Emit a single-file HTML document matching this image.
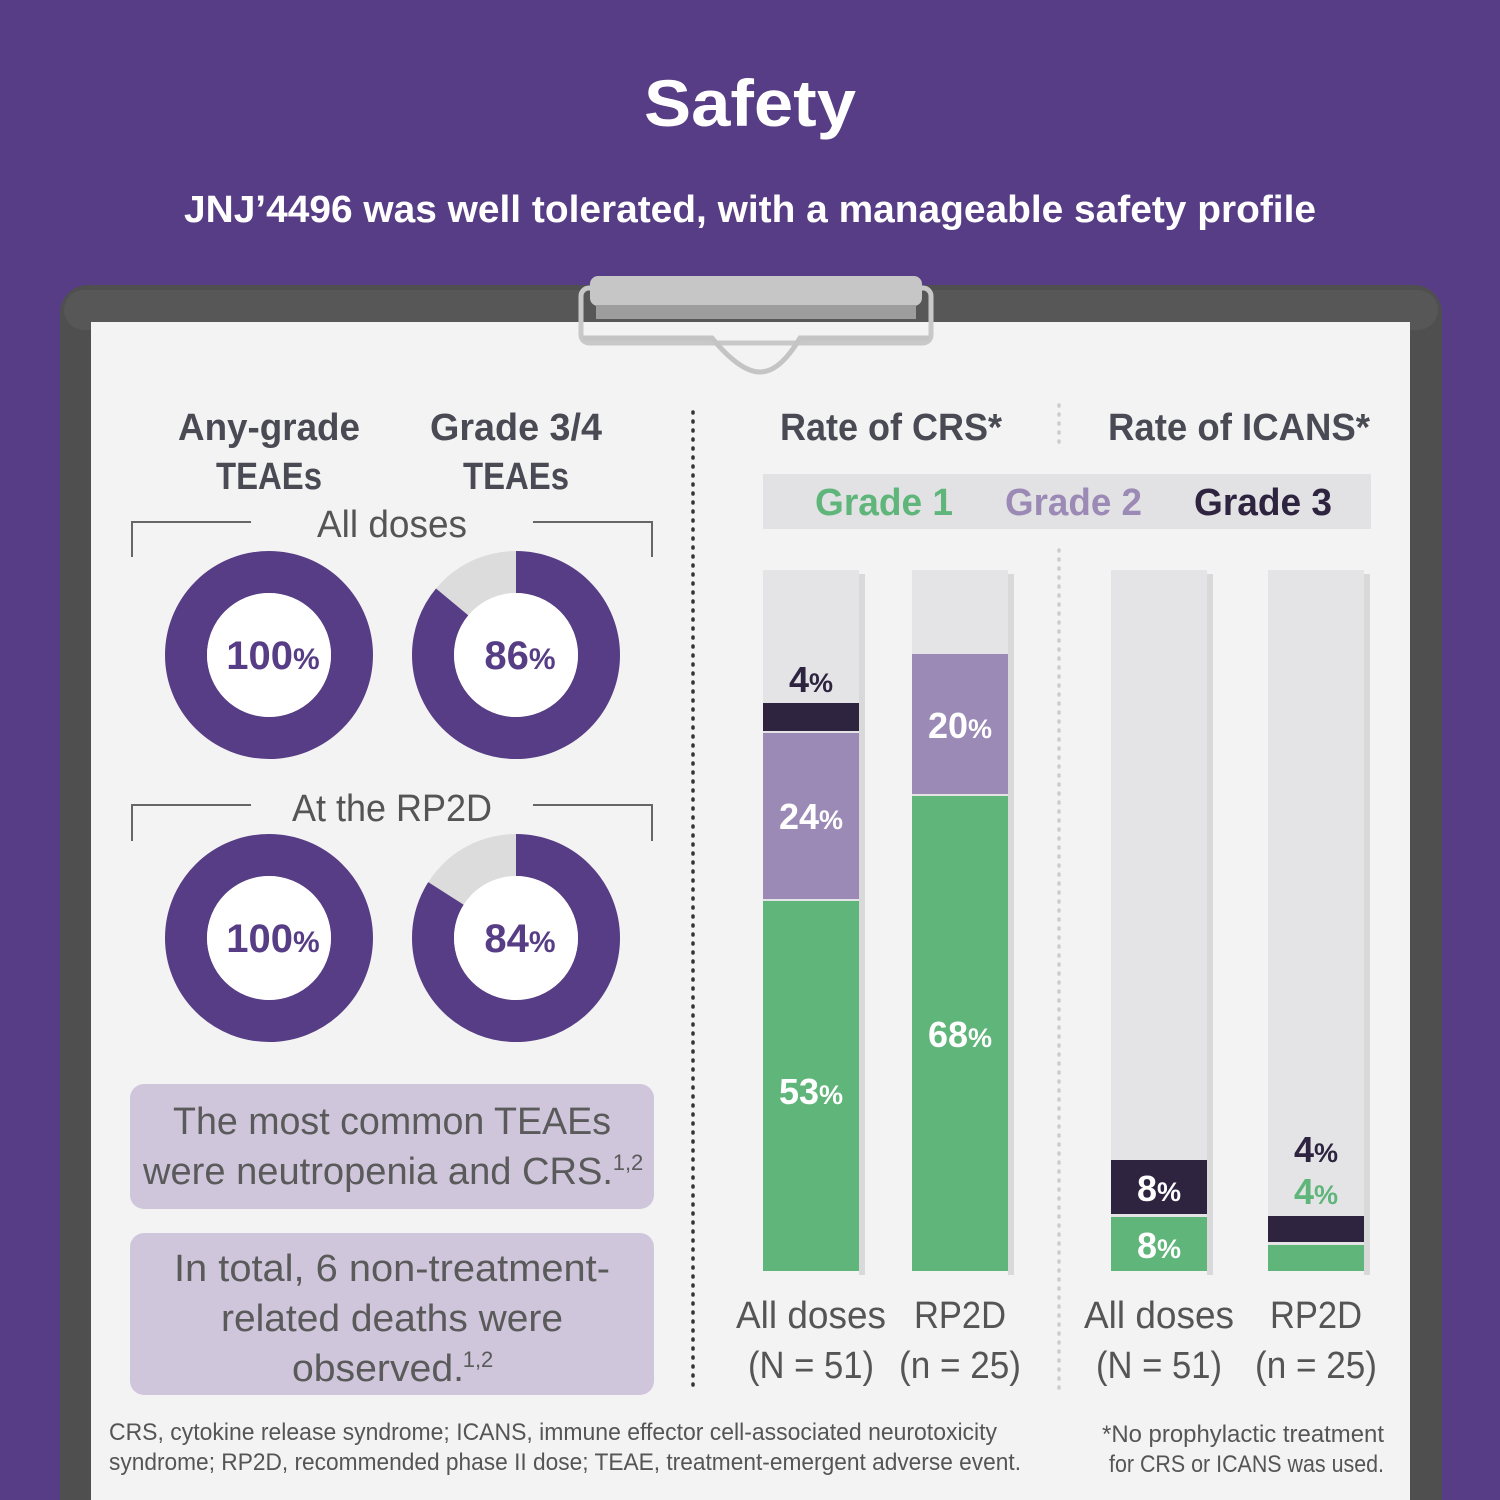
<!DOCTYPE html>
<html><head><meta charset="utf-8"><style>
html,body{margin:0;padding:0;background:#573d85;}
svg{display:block;}
text{font-family:"Liberation Sans",sans-serif;}
</style></head><body>
<svg width="1500" height="1500" viewBox="0 0 1500 1500" xmlns="http://www.w3.org/2000/svg">
<rect width="1500" height="1500" fill="#573d85"/>
<text x="750" y="126" text-anchor="middle" font-size="66" font-weight="bold" fill="#fff" textLength="212" lengthAdjust="spacingAndGlyphs">Safety</text>
<text x="750" y="222" text-anchor="middle" font-size="38" font-weight="bold" fill="#fff" textLength="1132" lengthAdjust="spacingAndGlyphs">JNJ’4496 was well tolerated, with a manageable safety profile</text>
<!-- board -->
<rect x="60" y="285" width="1382" height="1260" rx="28" fill="#4f4f4f"/>
<rect x="64" y="290" width="1374" height="40" rx="20" fill="#575757"/>
<rect x="91" y="322" width="1319" height="1200" fill="#f3f3f3"/>
<!-- clip -->
<rect x="581" y="288" width="350" height="55" rx="8" fill="none" stroke="#c8c8c8" stroke-width="5"/>
<path d="M583 338 H712 Q740 372 760 372 Q780 372 800 338 H929" fill="none" stroke="#c4c4c4" stroke-width="5"/>
<rect x="590" y="276" width="332" height="30" rx="8" fill="#c6c6c6"/>
<rect x="596" y="305" width="320" height="14" fill="#9d9d9d"/>
<!-- headers left -->
<g font-size="38" font-weight="bold" fill="#4a4a55" text-anchor="middle">
<text x="269" y="440" textLength="182" lengthAdjust="spacingAndGlyphs">Any-grade</text>
<text x="269" y="489" textLength="106" lengthAdjust="spacingAndGlyphs">TEAEs</text>
<text x="516" y="440" textLength="172" lengthAdjust="spacingAndGlyphs">Grade 3/4</text>
<text x="516" y="489" textLength="106" lengthAdjust="spacingAndGlyphs">TEAEs</text>
</g>
<g font-size="38" fill="#555" text-anchor="middle">
<text x="392" y="537" textLength="150" lengthAdjust="spacingAndGlyphs">All doses</text>
<text x="392" y="821" textLength="200" lengthAdjust="spacingAndGlyphs">At the RP2D</text>
</g>
<g fill="none" stroke="#666" stroke-width="2">
<path d="M132 557 V522 H251"/><path d="M533 522 H652 V557"/>
<path d="M132 841 V805 H251"/><path d="M533 805 H652 V841"/>
</g>
<!-- donuts -->
<g>
<circle cx="269" cy="655" r="83" fill="none" stroke="#573d85" stroke-width="42"/>
<circle cx="516" cy="655" r="83" fill="none" stroke="#dcdcdc" stroke-width="42"/>
<circle cx="516" cy="655" r="83" fill="none" stroke="#573d85" stroke-width="42" stroke-dasharray="448.5 600" transform="rotate(-90 516 655)"/>
<circle cx="269" cy="938" r="83" fill="none" stroke="#573d85" stroke-width="42"/>
<circle cx="516" cy="938" r="83" fill="none" stroke="#dcdcdc" stroke-width="42"/>
<circle cx="516" cy="938" r="83" fill="none" stroke="#573d85" stroke-width="42" stroke-dasharray="438 600" transform="rotate(-90 516 938)"/>
<circle cx="269" cy="655" r="62" fill="#fff"/><circle cx="516" cy="655" r="62" fill="#fff"/>
<circle cx="269" cy="938" r="62" fill="#fff"/><circle cx="516" cy="938" r="62" fill="#fff"/>
</g>
<g font-weight="bold" fill="#573d85" text-anchor="middle">
<text x="273" y="669" font-size="40">100<tspan font-size="30">%</tspan></text>
<text x="520" y="669" font-size="40">86<tspan font-size="30">%</tspan></text>
<text x="273" y="952" font-size="40">100<tspan font-size="30">%</tspan></text>
<text x="520" y="952" font-size="40">84<tspan font-size="30">%</tspan></text>
</g>
<!-- boxes -->
<rect x="130" y="1084" width="524" height="125" rx="14" fill="#cfc6dc"/>
<rect x="130" y="1233" width="524" height="162" rx="14" fill="#cfc6dc"/>
<g font-size="38" fill="#5a5a5a" text-anchor="middle">
<text x="392" y="1134" textLength="438" lengthAdjust="spacingAndGlyphs">The most common TEAEs</text>
<text x="378" y="1184" textLength="470" lengthAdjust="spacingAndGlyphs">were neutropenia and CRS.</text>
<text x="628" y="1170" font-size="22" text-anchor="middle">1,2</text>
<text x="392" y="1281" textLength="436" lengthAdjust="spacingAndGlyphs">In total, 6 non-treatment-</text>
<text x="392" y="1331" textLength="342" lengthAdjust="spacingAndGlyphs">related deaths were</text>
<text x="378" y="1381" textLength="172" lengthAdjust="spacingAndGlyphs">observed.</text>
<text x="478" y="1367" font-size="22">1,2</text>
</g>
<!-- dividers -->
<line x1="693" y1="412" x2="693" y2="1392" stroke="#333" stroke-width="3.5" stroke-dasharray="1 8" stroke-linecap="round"/>
<line x1="1059" y1="405" x2="1059" y2="447" stroke="#ccc" stroke-width="3.5" stroke-dasharray="1 8" stroke-linecap="round"/>
<line x1="1059" y1="550" x2="1059" y2="1392" stroke="#ccc" stroke-width="3.5" stroke-dasharray="1 8" stroke-linecap="round"/>
<!-- right headers -->
<g font-size="38" font-weight="bold" fill="#4a4a55">
<text x="780" y="440" textLength="222" lengthAdjust="spacingAndGlyphs">Rate of CRS*</text>
<text x="1108" y="440" textLength="262" lengthAdjust="spacingAndGlyphs">Rate of ICANS*</text>
</g>
<rect x="763" y="474" width="608" height="55" fill="#e2e2e4"/>
<g font-size="38" font-weight="bold">
<text x="815" y="515" fill="#5fb57a" textLength="138" lengthAdjust="spacingAndGlyphs">Grade 1</text>
<text x="1005" y="515" fill="#9b8ab5" textLength="137" lengthAdjust="spacingAndGlyphs">Grade 2</text>
<text x="1194" y="515" fill="#2e2440" textLength="138" lengthAdjust="spacingAndGlyphs">Grade 3</text>
</g>
<!-- bars -->
<g fill="#c8c8c8" opacity="0.6">
<rect x="859" y="574" width="6" height="701"/><rect x="1008" y="574" width="6" height="701"/>
<rect x="1207" y="574" width="6" height="701"/><rect x="1364" y="574" width="6" height="701"/>
</g>
<rect x="763" y="570" width="96" height="701" fill="#e4e4e6"/>
<rect x="912" y="570" width="96" height="701" fill="#e4e4e6"/>
<rect x="1111" y="570" width="96" height="701" fill="#e4e4e6"/>
<rect x="1268" y="570" width="96" height="701" fill="#e4e4e6"/>
<rect x="763" y="703" width="96" height="28" fill="#2e2440"/>
<rect x="763" y="733" width="96" height="166" fill="#9b8ab5"/>
<rect x="763" y="901" width="96" height="370" fill="#5fb57a"/>
<rect x="912" y="654" width="96" height="140" fill="#9b8ab5"/>
<rect x="912" y="796" width="96" height="475" fill="#5fb57a"/>
<rect x="1111" y="1160" width="96" height="54" fill="#2e2440"/>
<rect x="1111" y="1217" width="96" height="54" fill="#5fb57a"/>
<rect x="1268" y="1216" width="96" height="26" fill="#2e2440"/>
<rect x="1268" y="1245" width="96" height="26" fill="#5fb57a"/>
<g font-weight="bold" font-size="36" text-anchor="middle">
<text x="811" y="692" fill="#2e2440">4<tspan font-size="27">%</tspan></text>
<text x="811" y="829" fill="#fff">24<tspan font-size="27">%</tspan></text>
<text x="811" y="1104" fill="#fff">53<tspan font-size="27">%</tspan></text>
<text x="960" y="738" fill="#fff">20<tspan font-size="27">%</tspan></text>
<text x="960" y="1047" fill="#fff">68<tspan font-size="27">%</tspan></text>
<text x="1159" y="1201" fill="#fff">8<tspan font-size="27">%</tspan></text>
<text x="1159" y="1258" fill="#fff">8<tspan font-size="27">%</tspan></text>
<text x="1316" y="1162" fill="#2e2440">4<tspan font-size="27">%</tspan></text>
<text x="1316" y="1204" fill="#5fb57a">4<tspan font-size="27">%</tspan></text>
</g>
<g font-size="38" fill="#555" text-anchor="middle">
<text x="811" y="1328" textLength="150" lengthAdjust="spacingAndGlyphs">All doses</text>
<text x="811" y="1378" textLength="126" lengthAdjust="spacingAndGlyphs">(N = 51)</text>
<text x="960" y="1328" textLength="92" lengthAdjust="spacingAndGlyphs">RP2D</text>
<text x="960" y="1378" textLength="122" lengthAdjust="spacingAndGlyphs">(n = 25)</text>
<text x="1159" y="1328" textLength="150" lengthAdjust="spacingAndGlyphs">All doses</text>
<text x="1159" y="1378" textLength="126" lengthAdjust="spacingAndGlyphs">(N = 51)</text>
<text x="1316" y="1328" textLength="92" lengthAdjust="spacingAndGlyphs">RP2D</text>
<text x="1316" y="1378" textLength="122" lengthAdjust="spacingAndGlyphs">(n = 25)</text>
</g>
<g font-size="24" fill="#555">
<text x="109" y="1440" textLength="888" lengthAdjust="spacingAndGlyphs">CRS, cytokine release syndrome; ICANS,  immune effector cell-associated neurotoxicity</text>
<text x="109" y="1470" textLength="912" lengthAdjust="spacingAndGlyphs">syndrome; RP2D, recommended phase II dose; TEAE, treatment-emergent adverse event.</text>
<text x="1102" y="1442" textLength="282" lengthAdjust="spacingAndGlyphs">*No prophylactic treatment</text>
<text x="1109" y="1472" textLength="275" lengthAdjust="spacingAndGlyphs">for CRS or ICANS was used.</text>
</g>
</svg>
</body></html>
